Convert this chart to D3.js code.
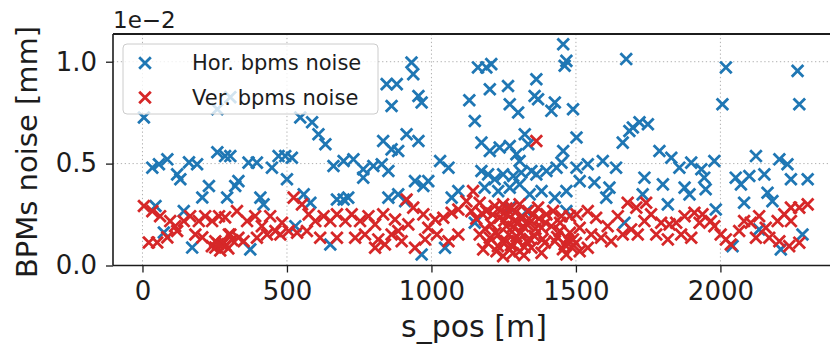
<!DOCTYPE html>
<html>
<head>
<meta charset="utf-8">
<script src="https://cdn.jsdelivr.net/npm/d3@7"></script>
<style>
  body { margin: 0; background: #fff; }
  svg { display: block; font-family: "DejaVu Sans", sans-serif; }
</style>
</head>
<body>
<svg id="chart" width="830" height="345"></svg>
<script>
// Horizontal BPM noise: longitudinal position [m] and noise [mm]
const horS = [
  5, 259, 304, 34, 57, 86, 120, 131, 161, 189, 230, 207, 259, 286, 293, 45, 74, 172, 143,
  546, 587, 609, 633, 304, 321, 332, 367, 396, 448, 471, 494, 517, 500, 408, 419, 558, 581, 661, 696, 673, 696, 373, 650, 529,
  931, 937, 845, 880, 862, 955, 966, 833, 862, 885, 914, 955, 730, 764, 799, 764, 828, 851, 1030, 1059, 943, 989, 972, 851, 885, 909, 1070, 1093, 712, 1047, 966,
  1456, 1467, 1461, 1161, 1190, 1207, 1131, 1202, 1150, 1265, 1271, 1300, 1363, 1357, 1369, 1427, 1415, 1490, 1173, 1202, 1236, 1271, 1323, 1294, 1305, 1335, 1502, 1456, 1450, 1173, 1196, 1219, 1248, 1283, 1311, 1346, 1363, 1398, 1433, 1502, 1184, 1231, 1271, 1305, 1340, 1381, 1427, 1467, 1513, 1150, 1271, 1329, 1467,
  1674, 1697, 1720, 1749, 1685, 1662, 1541, 1593, 1639, 1789, 1830, 1858, 1899, 1934, 1564, 1616, 1605, 1737, 1801, 1876, 1893, 1818, 1731, 1668,
  2019, 2007, 2267, 2273, 1979, 1944, 1949, 2053, 2071, 2100, 2123, 2152, 2204, 2232, 2244, 2302, 2163, 2180, 2082, 1984, 2134, 2284, 2209, 2042
];
const horNoise = [
  0.00726, 0.00767, 0.00826, 0.00480, 0.00497, 0.00521, 0.00447, 0.00423, 0.00506, 0.00497, 0.00390, 0.00334, 0.00556, 0.00537, 0.00334, 0.00292, 0.00162, 0.00088, 0.00267,
  0.00726, 0.00703, 0.00644, 0.00595, 0.00537, 0.00390, 0.00414, 0.00505, 0.00505, 0.00480, 0.00537, 0.00537, 0.00529, 0.00423, 0.00333, 0.00300, 0.00349, 0.00308, 0.00488, 0.00513, 0.00324, 0.00324, 0.00079, 0.00103, 0.00193,
  0.00996, 0.00939, 0.00890, 0.00890, 0.00783, 0.00832, 0.00800, 0.00611, 0.00570, 0.00562, 0.00644, 0.00611, 0.00521, 0.00472, 0.00488, 0.00431, 0.00497, 0.00464, 0.00513, 0.00480, 0.00414, 0.00414, 0.00390, 0.00333, 0.00349, 0.00316, 0.00333, 0.00365, 0.00333, 0.00087, 0.00054,
  0.01086, 0.01004, 0.00980, 0.00972, 0.00972, 0.00988, 0.00811, 0.00865, 0.00709, 0.00881, 0.00791, 0.00751, 0.00914, 0.00832, 0.00816, 0.00800, 0.00759, 0.00767, 0.00603, 0.00562, 0.00579, 0.00586, 0.00644, 0.00546, 0.00513, 0.00595, 0.00628, 0.00562, 0.00505, 0.00464, 0.00447, 0.00423, 0.00447, 0.00439, 0.00456, 0.00464, 0.00447, 0.00464, 0.00480, 0.00480, 0.00382, 0.00365, 0.00382, 0.00398, 0.00349, 0.00365, 0.00333, 0.00365, 0.00414, 0.00210, 0.00284, 0.00267, 0.00267,
  0.01013, 0.00677, 0.00703, 0.00693, 0.00660, 0.00603, 0.00497, 0.00513, 0.00480, 0.00562, 0.00529, 0.00480, 0.00505, 0.00472, 0.00407, 0.00382, 0.00333, 0.00431, 0.00398, 0.00382, 0.00349, 0.00300, 0.00349, 0.00210,
  0.00972, 0.00791, 0.00955, 0.00791, 0.00513, 0.00431, 0.00374, 0.00431, 0.00398, 0.00439, 0.00537, 0.00447, 0.00521, 0.00497, 0.00423, 0.00423, 0.00357, 0.00316, 0.00308, 0.00275, 0.00177, 0.00152, 0.00079, 0.00095
];

// Vertical BPM noise: longitudinal position [m] and noise [mm]
const verS = [
  5, 34, 61, 96, 113, 22, 51, 86, 120, 143, 165, 195, 183, 217, 241, 265, 252, 282, 299, 286, 207, 252, 276, 297, 269,
  240, 262, 288, 310,
  327, 362, 390, 413, 442, 460, 483, 506, 523, 552, 575, 598, 627, 650, 673, 702, 332, 350, 396, 431, 477, 535, 569, 615, 673, 304,
  724, 753, 782, 805, 833, 874, 914, 937, 972, 1013, 1041, 1070, 1093, 736, 770, 816, 839, 862, 885, 897, 920, 943, 978, 989, 1019, 1059, 1093, 805,
  1363, 1144, 1121, 1167, 1138, 1190, 1219, 1248, 1277, 1305, 1335, 1369, 1398, 1421, 1450, 1479, 1502, 1236, 1207, 1259, 1288, 1317, 1346, 1381, 1415, 1444, 1479, 1513, 1167, 1202, 1231, 1259, 1294, 1329, 1357, 1392, 1427, 1461, 1490, 1179, 1225, 1271, 1305, 1346, 1467, 1513, 1381, 1248,
  1155, 1175, 1185, 1195, 1212, 1222, 1240, 1245, 1252, 1262, 1268, 1275, 1282, 1290, 1298, 1310, 1315, 1322, 1332, 1340, 1352, 1360, 1372, 1385, 1395, 1282, 1230, 1320, 1260, 1300,
  1435, 1455, 1470, 1485, 1500, 1445,
  1541, 1570, 1610, 1645, 1679, 1709, 1743, 1760, 1795, 1824, 1847, 1876, 1910, 1928, 1553, 1541, 1587, 1622, 1662, 1691, 1714, 1778, 1818, 1864, 1899, 1737,
  1938, 1967, 1979, 2019, 2036, 2065, 2082, 2105, 2134, 2157, 2169, 2198, 2221, 2244, 2273, 2302, 2244, 2204, 2238, 2273, 2001, 2123
];
const verNoise = [
  0.00292, 0.00267, 0.00242, 0.00218, 0.00193, 0.00113, 0.00113, 0.00138, 0.00169, 0.00218, 0.00242, 0.00218, 0.00152, 0.00242, 0.00218, 0.00242, 0.00119, 0.00112, 0.00152, 0.00236, 0.00138, 0.00088, 0.00103, 0.00084, 0.00074,
  0.00095, 0.00105, 0.00098, 0.00125,
  0.00267, 0.00218, 0.00242, 0.00193, 0.00242, 0.00169, 0.00210, 0.00169, 0.00333, 0.00300, 0.00251, 0.00218, 0.00242, 0.00218, 0.00251, 0.00218, 0.00136, 0.00119, 0.00136, 0.00152, 0.00152, 0.00161, 0.00169, 0.00136, 0.00136, 0.00152,
  0.00251, 0.00218, 0.00242, 0.00202, 0.00251, 0.00226, 0.00324, 0.00284, 0.00251, 0.00226, 0.00234, 0.00259, 0.00275, 0.00136, 0.00152, 0.00128, 0.00103, 0.00152, 0.00169, 0.00119, 0.00202, 0.00087, 0.00128, 0.00185, 0.00152, 0.00119, 0.00152, 0.00087,
  0.00611, 0.00365, 0.00316, 0.00308, 0.00267, 0.00267, 0.00292, 0.00300, 0.00284, 0.00300, 0.00267, 0.00284, 0.00251, 0.00267, 0.00242, 0.00242, 0.00251, 0.00234, 0.00202, 0.00193, 0.00218, 0.00193, 0.00218, 0.00185, 0.00193, 0.00169, 0.00161, 0.00185, 0.00152, 0.00136, 0.00152, 0.00119, 0.00144, 0.00119, 0.00144, 0.00112, 0.00119, 0.00103, 0.00128, 0.00079, 0.00070, 0.00079, 0.00070, 0.00087, 0.00054, 0.00070, 0.00062, 0.00046,
  0.00230, 0.00255, 0.00180, 0.00110, 0.00250, 0.00160, 0.00270, 0.00120, 0.00220, 0.00250, 0.00150, 0.00100, 0.00190, 0.00260, 0.00120, 0.00160, 0.00240, 0.00090, 0.00200, 0.00130, 0.00250, 0.00180, 0.00230, 0.00130, 0.00210, 0.00060, 0.00095, 0.00050, 0.00280, 0.00210,
  0.00140, 0.00080, 0.00130, 0.00090, 0.00110, 0.00210,
  0.00267, 0.00234, 0.00193, 0.00242, 0.00308, 0.00284, 0.00308, 0.00251, 0.00210, 0.00202, 0.00210, 0.00242, 0.00259, 0.00210, 0.00152, 0.00087, 0.00136, 0.00119, 0.00152, 0.00177, 0.00152, 0.00152, 0.00128, 0.00152, 0.00136, 0.00218,
  0.00251, 0.00218, 0.00193, 0.00128, 0.00103, 0.00169, 0.00218, 0.00210, 0.00242, 0.00185, 0.00136, 0.00218, 0.00251, 0.00284, 0.00284, 0.00300, 0.00218, 0.00119, 0.00095, 0.00112, 0.00152, 0.00136
];

const sTicks = [0, 500, 1000, 1500, 2000];
const noiseTicks = [0, 0.005, 0.01];
const noiseExponent = -2;
const seriesNames = ["Hor. bpms noise", "Ver. bpms noise"];
const seriesColors = ["#1f77b4", "#d62728"];

const svg = d3.select("#chart");
const plot = { left: 113, top: 34, right: 836, bottom: 265.5 };
const ink = "#1c1c1c";

const x = d3.scaleLinear().domain([-102, 2400]).range([plot.left, plot.right]);
const y = d3.scaleLinear().domain([0, 0.01136]).range([plot.bottom, plot.top]);

// dotted grid
const grid = svg.append("g").attr("stroke", "#b0b0b0").attr("stroke-width", 1)
  .attr("stroke-dasharray", "1.3,2.6");
grid.selectAll("line.v").data(sTicks).join("line").attr("class", "v")
  .attr("x1", d => x(d)).attr("x2", d => x(d))
  .attr("y1", plot.top).attr("y2", plot.bottom);
grid.selectAll("line.h").data(noiseTicks).join("line").attr("class", "h")
  .attr("x1", plot.left).attr("x2", plot.right)
  .attr("y1", d => y(d)).attr("y2", d => y(d));

// 'x' markers
const half = 5.8;
const crossPath = `M${-half},${-half}L${half},${half}M${-half},${half}L${half},${-half}`;
function drawSeries(sArr, nArr, color) {
  const pts = d3.zip(sArr, nArr);
  svg.append("g").selectAll("path").data(pts).join("path")
    .attr("d", crossPath)
    .attr("transform", d => `translate(${x(d[0])},${y(d[1])})`)
    .attr("fill", "none").attr("stroke", color).attr("stroke-width", 2.8);
}
drawSeries(horS, horNoise, seriesColors[0]);
drawSeries(verS, verNoise, seriesColors[1]);

// axes
const xAxis = svg.append("g").attr("transform", `translate(0,${plot.bottom})`)
  .call(d3.axisBottom(x).tickValues(sTicks).tickSize(7).tickPadding(9.5).tickFormat(d3.format("d")));
const yAxis = svg.append("g").attr("transform", `translate(${plot.left},0)`)
  .call(d3.axisLeft(y).tickValues(noiseTicks).tickSize(7).tickPadding(9)
    .tickFormat(d => (d / Math.pow(10, noiseExponent)).toFixed(1)));
[xAxis, yAxis].forEach(a => {
  a.select(".domain").remove();
  a.selectAll(".tick line").attr("stroke", ink).attr("stroke-width", 1.3);
  a.selectAll(".tick text").attr("fill", ink).style("font-size", "26px")
    .style("font-family", "DejaVu Sans");
});

// spines
const spines = svg.append("g").attr("stroke", ink).attr("fill", "none");
spines.append("line").attr("x1", plot.left).attr("x2", plot.left)
  .attr("y1", plot.top).attr("y2", plot.bottom).attr("stroke-width", 1.6);
spines.append("line").attr("x1", plot.left).attr("x2", plot.right)
  .attr("y1", plot.top).attr("y2", plot.top).attr("stroke-width", 1.8);
spines.append("line").attr("x1", plot.left).attr("x2", plot.right)
  .attr("y1", plot.bottom).attr("y2", plot.bottom).attr("stroke-width", 1.3);

// offset text above the y axis
svg.append("text").attr("x", plot.left).attr("y", 28)
  .attr("fill", ink).style("font-size", "23px")
  .text("1e\u2212" + Math.abs(noiseExponent));

// axis labels
svg.append("text").attr("x", 474).attr("y", 337).attr("text-anchor", "middle")
  .attr("fill", ink).style("font-size", "30px").text("s_pos [m]");
svg.append("text").attr("transform", "translate(37,152) rotate(-90)")
  .attr("text-anchor", "middle").attr("fill", ink).style("font-size", "29px")
  .text("BPMs noise [mm]");

// legend
const legend = svg.append("g");
legend.append("rect").attr("x", 123).attr("y", 44).attr("width", 255).attr("height", 70)
  .attr("rx", 4).attr("fill", "#fff").attr("fill-opacity", 0.8)
  .attr("stroke", "#cccccc").attr("stroke-width", 1);
seriesNames.forEach((name, i) => {
  const cy = 63 + i * 34.5;
  legend.append("path").attr("d", crossPath).attr("transform", `translate(145,${cy})`)
    .attr("fill", "none").attr("stroke", seriesColors[i]).attr("stroke-width", 2.8);
  legend.append("text").attr("x", 192).attr("y", cy + 7.2)
    .attr("fill", ink).style("font-size", "21px").text(name);
});
</script>
</body>
</html>
